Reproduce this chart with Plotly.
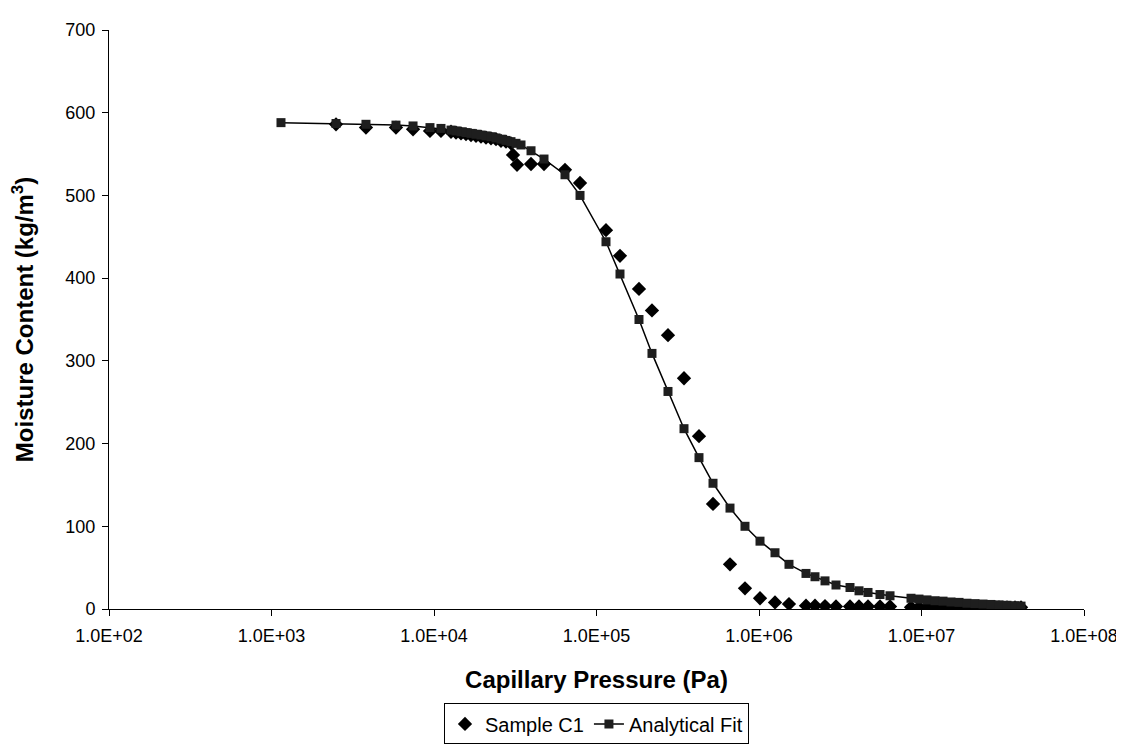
import plotly.graph_objects as go

# Analytical fit (x: capillary pressure Pa, y: moisture content kg/m3)
fit_x = [1144, 2495, 3814, 5834, 7430, 9446, 11040,
         12725, 13660, 14665, 15740, 16895, 18135, 19465, 20893, 22430, 24070,
         25840, 27740, 29770, 31950, 34310,
         39540, 47530, 64000, 79170, 114400, 139500, 182600, 219500, 275400,
         345500, 427300, 521200, 663000, 820000, 1.0144e6, 1.2545e6, 1.5295e6,
         1.946e6, 2.211e6, 2.548e6, 2.977e6, 3.631e6, 4.125e6, 4.687e6, 5.553e6,
         6.401e6, 8.617e6, 9.652e6, 1.081e7, 1.211e7, 1.357e7, 1.519e7, 1.702e7,
         1.905e7, 2.134e7, 2.391e7, 2.677e7, 2.999e7, 3.359e7, 3.762e7, 4.097e7]
fit_y = [588, 587, 586, 585, 584, 582, 581,
         579, 578, 577, 576, 575, 574, 573, 572, 571, 569.5,
         568, 566.5, 565, 563, 561,
         554, 544, 525, 500, 444, 405, 350, 309, 263,
         218, 183, 152, 122, 100, 82, 68, 54,
         43, 39, 34, 29, 26, 22, 20, 17.5,
         16, 13, 12, 11, 10, 9.5, 8.5, 8,
         7, 6.5, 6, 5.5, 5, 4.5, 4, 3.5]

# Measured sample C1
sample_x = [2495, 3814, 5834, 7430, 9446, 11040,
            12725, 13660, 14665, 15740, 16895, 18135, 19465, 20893, 22430, 24070,
            25840, 27740, 29770, 30640, 32430,
            39540, 47530, 64000, 79170, 114400, 139500, 182600, 219500, 275400,
            345500, 427300, 521200, 663000, 820000, 1.0144e6, 1.2545e6, 1.5295e6,
            1.946e6, 2.211e6, 2.548e6, 2.977e6, 3.631e6, 4.125e6, 4.687e6, 5.553e6,
            6.401e6, 8.617e6, 9.652e6, 1.081e7, 1.211e7, 1.357e7, 1.519e7, 1.702e7,
            1.905e7, 2.134e7, 2.391e7, 2.677e7, 2.999e7, 3.359e7, 3.762e7, 4.097e7]
sample_y = [586, 582, 582, 580, 578, 578,
            577, 576, 575, 574, 573, 572, 571, 570, 569, 568,
            566, 565, 563, 549, 537,
            538, 538, 531, 515, 458, 427, 387, 361, 331,
            279, 209, 127, 54, 25, 13, 8, 6,
            4, 4, 3.5, 3, 3, 3, 3, 3,
            3, 2, 2, 2, 2, 2, 2, 2,
            2, 2, 2, 2, 2, 2, 2, 2]

x_tickvals = [1e2, 1e3, 1e4, 1e5, 1e6, 1e7, 1e8]
x_ticktext = ["1.0E+02", "1.0E+03", "1.0E+04", "1.0E+05", "1.0E+06", "1.0E+07", "1.0E+08"]

FONT = "Liberation Sans, Arial, sans-serif"

fig = go.Figure()
fig.add_trace(go.Scatter(
    x=sample_x, y=sample_y, mode="markers", name="Sample C1",
    marker=dict(symbol="diamond", size=11, color="black"),
))
fig.add_trace(go.Scatter(
    x=fit_x, y=fit_y, mode="lines+markers", name="Analytical Fit",
    line=dict(color="black", width=1.5),
    marker=dict(symbol="square", size=9, color="#1e1e1e"),
))

fig.update_layout(
    width=1124, height=748,
    paper_bgcolor="white", plot_bgcolor="white",
    margin=dict(l=101, r=48, t=19, b=132),
    font=dict(family=FONT, size=18, color="black"),
    showlegend=True,
    legend=dict(
        orientation="h", x=0.5, xanchor="center", y=-0.163, yanchor="top",
        bordercolor="black", borderwidth=1, bgcolor="white",
        font=dict(family=FONT, size=20, color="black"),
        tracegroupgap=0,
    ),
)
fig.update_xaxes(
    type="log", range=[2, 8],
    tickvals=x_tickvals, ticktext=x_ticktext,
    showgrid=False, zeroline=False,
    showline=True, linecolor="black", linewidth=1,
    ticks="outside", ticklen=6, tickcolor="black",
    ticklabelstandoff=4,
    tickfont=dict(family=FONT, size=18),
    title=dict(text="<b>Capillary Pressure (Pa)</b>", font=dict(family=FONT, size=24), standoff=26),
)
fig.update_yaxes(
    range=[0, 700], dtick=100,
    showgrid=False, zeroline=False,
    showline=True, linecolor="black", linewidth=1,
    ticks="outside", ticklen=6, tickcolor="black",
    ticklabelstandoff=3,
    tickfont=dict(family=FONT, size=18),
    title=dict(text="<b>Moisture Content (kg/m<sup>3</sup>)</b>", font=dict(family=FONT, size=24), standoff=24),
)

fig.write_html("out.html")
